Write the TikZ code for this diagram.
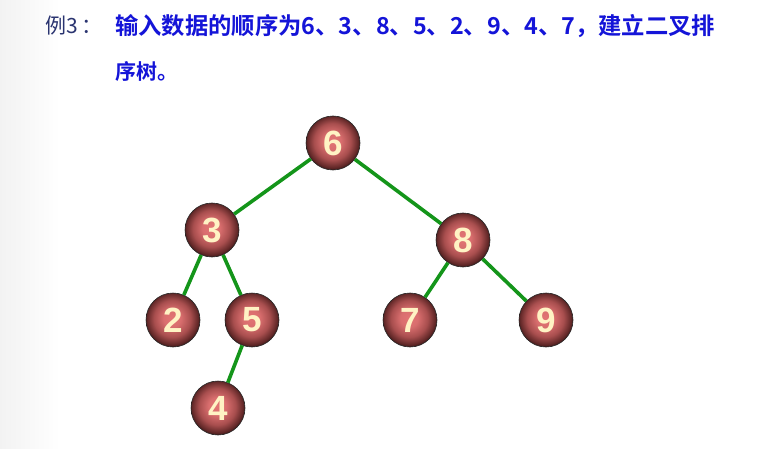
\documentclass[tikz,border=0pt]{standalone}
\usepackage{fontspec}
\setsansfont{Liberation Sans}
\newfontfamily\cjk{Noto Sans CJK SC}
\newfontfamily\cjkb{Noto Sans CJK SC Bold}
\usetikzlibrary{shadings}
\definecolor{navy}{HTML}{2A3470}
\definecolor{tblue}{HTML}{1414D8}
\definecolor{edgegreen}{HTML}{14951A}
\definecolor{digit}{HTML}{FFF3C4}
\definecolor{ballc}{HTML}{E27474}
\definecolor{ballm}{HTML}{A84E4E}
\definecolor{balle}{HTML}{5E2626}
\pgfdeclareradialshading{ballshade}{\pgfpoint{-1bp}{2bp}}{%
  color(0bp)=(ballc);
  color(8bp)=(ballc!85!ballm);
  color(17bp)=(ballm);
  color(24bp)=(balle);
  color(25bp)=(balle!80!black);
  color(50bp)=(black)}
\tikzset{
  ballnode/.style={circle, draw=black!85, line width=0.6pt, minimum size=54pt, inner sep=0pt,
    shading=ballshade, text=digit, font=\sffamily\bfseries\fontsize{35}{35}\selectfont},
  treeedge/.style={draw=edgegreen, line width=3.6pt}
}
\begin{document}
\begin{tikzpicture}[x=1pt,y=-1pt]
\useasboundingbox (0,0) rectangle (781,449);
\fill[white] (0,0) rectangle (781,449);
\shade[left color=black!5, right color=white] (0,0) rectangle (60,449);
% title
\node[anchor=west, text=navy, font=\cjk\fontsize{21}{21}\selectfont, inner sep=0pt] (lbl) at (45,26) {例3\,：};
\node[anchor=west, text=tblue, font=\cjkb\fontsize{21}{21}\selectfont, inner sep=0pt] (line1) at (115,26)
  {\resizebox{600pt}{!}{输入数据的顺序为6、3、8、5、2、9、4、7，建立二叉排}};
\node[anchor=west, text=tblue, font=\cjkb\fontsize{21}{21}\selectfont, inner sep=0pt] (line2) at (115,71) {序树。};
% nodes
\node[ballnode] (n6) at (333,143) {6};
\node[ballnode] (n3) at (212,230) {3};
\node[ballnode] (n8) at (463,240) {8};
\node[ballnode] (n2) at (173,320) {2};
\node[ballnode] (n5) at (252,320) {5};
\node[ballnode] (n7) at (410,320) {7};
\node[ballnode] (n9) at (546,320) {9};
\node[ballnode] (n4) at (218,408) {4};
% edges
\path[treeedge] (n6) -- (n3);
\path[treeedge] (n6) -- (n8);
\path[treeedge] (n3) -- (n2);
\path[treeedge] (n3) -- (n5);
\path[treeedge] (n8) -- (n7);
\path[treeedge] (n8) -- (n9);
\path[treeedge] (n5) -- (n4);
\end{tikzpicture}
\end{document}
